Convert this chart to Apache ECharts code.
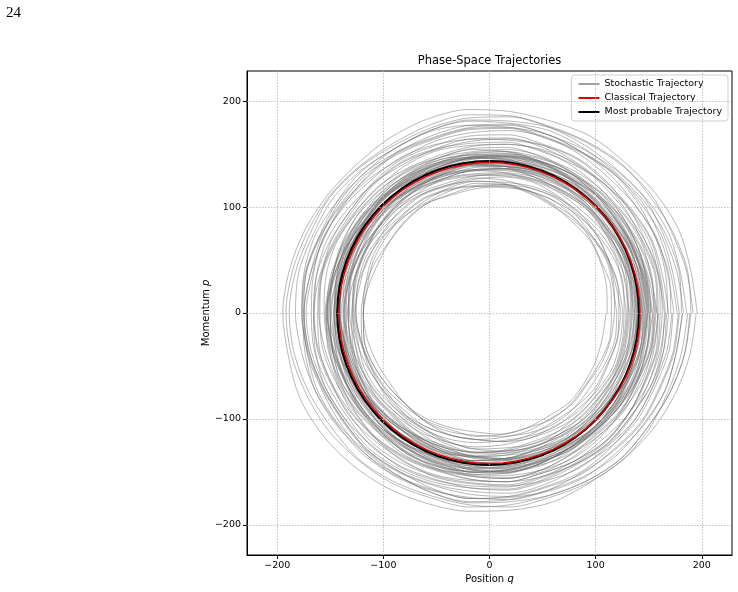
<!DOCTYPE html>
<html>
<head>
<meta charset="utf-8">
<script src="https://cdn.jsdelivr.net/npm/echarts@6/dist/echarts.min.js"></script>
<style>
  html, body { margin: 0; padding: 0; background: #fff; }
  #chart { width: 738px; height: 592px; }
</style>
</head>
<body>
<div id="chart"></div>
<script>
// tick values on both axes
const ticks = [-200, -100, 0, 100, 200];
const angles = [0, 12, 24, 36, 48, 60, 72, 84, 96, 108, 120, 132, 144, 156, 168, 180,
                192, 204, 216, 228, 240, 252, 264, 276, 288, 300, 312, 324, 336, 348, 360];
// finer angles for the two reference orbits
const circleAngles = [0, 5, 10, 15, 20, 25, 30, 35, 40, 45, 50, 55, 60, 65, 70, 75, 80, 85, 90,
  95, 100, 105, 110, 115, 120, 125, 130, 135, 140, 145, 150, 155, 160, 165, 170, 175, 180,
  185, 190, 195, 200, 205, 210, 215, 220, 225, 230, 235, 240, 245, 250, 255, 260, 265, 270,
  275, 280, 285, 290, 295, 300, 305, 310, 315, 320, 325, 330, 335, 340, 345, 350, 355, 360];

// radius of the classical orbit
const classicalR = [142, 142, 142, 142, 142, 142, 142, 142, 142, 142, 142, 142, 142, 142, 142, 142, 142, 142, 142,
  142, 142, 142, 142, 142, 142, 142, 142, 142, 142, 142, 142, 142, 142, 142, 142, 142, 142,
  142, 142, 142, 142, 142, 142, 142, 142, 142, 142, 142, 142, 142, 142, 142, 142, 142, 142,
  142, 142, 142, 142, 142, 142, 142, 142, 142, 142, 142, 142, 142, 142, 142, 142, 142, 142];
// most probable path (a little off-centre to the left)
const probableR = [141.0, 141.0, 141.1, 141.2, 141.3, 141.5, 141.7, 141.9, 142.1, 142.3, 142.5, 142.6, 142.8, 142.9, 143.0, 143.1, 143.2, 143.3, 143.3,
  143.4, 143.4, 143.5, 143.5, 143.5, 143.6, 143.6, 143.6, 143.6, 143.6, 143.6, 143.6, 143.6, 143.6, 143.6, 143.6, 143.6, 143.6,
  143.6, 143.6, 143.6, 143.6, 143.6, 143.6, 143.6, 143.6, 143.6, 143.6, 143.6, 143.5, 143.5, 143.5, 143.4, 143.4, 143.3, 143.3,
  143.2, 143.1, 143.0, 142.9, 142.8, 142.6, 142.5, 142.3, 142.1, 141.9, 141.7, 141.5, 141.3, 141.2, 141.1, 141.0, 141.0, 141.0];

// stochastic loops: radius at each angle
const stochR = [
  [196,194,195,193,191,192,190,191,193,192,190,188,189,191,193,195,194,196,195,193,191,189,188,187,188,186,187,189,191,193,195],
  [190,191,189,187,188,186,185,187,188,186,184,185,187,188,190,192,191,189,188,186,185,183,184,182,181,183,185,184,186,188,189],
  [186,184,185,183,181,182,184,186,185,183,182,184,186,185,187,189,188,186,184,185,183,181,182,184,183,185,187,186,184,185,187],
  [192,190,188,189,187,185,184,182,183,181,179,180,178,176,177,175,176,174,175,177,176,178,180,179,181,183,185,184,186,188,190],
  [181,183,182,180,178,179,181,180,182,181,179,177,178,180,179,177,176,178,177,175,176,178,179,177,176,178,180,179,181,180,182],
  [177,175,176,178,176,174,173,175,174,172,173,175,174,176,178,177,175,173,172,174,173,171,172,174,173,175,174,176,175,177,178],
  [174,172,173,171,170,172,174,173,171,170,168,170,172,171,173,175,174,172,171,173,172,170,169,171,170,168,170,172,171,173,173],
  [171,173,172,174,176,175,177,178,176,174,175,173,171,172,170,168,169,167,166,168,167,165,166,168,167,169,168,170,169,171,172],
  [183,181,180,182,180,178,177,179,178,176,175,177,176,174,173,175,174,172,171,173,172,174,176,175,177,179,178,180,181,180,182],
  [168,170,172,171,173,175,177,176,178,180,179,181,183,182,184,183,181,180,178,179,177,175,176,174,172,173,171,170,169,168,167],
  [179,177,178,176,177,175,174,176,175,173,174,172,173,175,177,176,178,180,179,177,178,176,175,177,176,174,175,177,176,178,179],
  [166,165,167,165,163,164,166,165,163,162,164,163,161,162,164,166,165,163,164,162,161,163,162,164,166,165,167,166,164,165,166],
  [163,164,162,160,161,163,162,160,159,161,160,158,159,161,163,162,164,163,161,160,162,161,159,160,162,161,163,162,164,163,163],
  [169,167,168,166,165,167,166,164,165,163,162,164,163,165,167,166,168,170,169,167,168,166,164,165,163,164,166,165,167,168,169],
  [161,163,165,164,166,168,167,169,168,166,167,165,163,164,162,160,161,159,158,160,159,157,158,160,159,161,160,162,161,162,161],
  [165,163,162,164,163,161,160,162,161,163,165,164,166,168,167,165,166,164,163,165,164,162,161,163,162,164,166,165,167,166,165],
  [158,160,159,161,163,162,164,166,165,167,169,168,170,172,171,173,172,170,169,171,170,168,166,167,165,163,164,162,160,161,159],
  [157,156,158,157,155,154,156,155,153,154,156,155,157,159,158,156,155,157,156,154,153,155,154,156,158,157,155,156,158,157,157],
  [154,152,153,155,154,152,151,153,152,150,151,153,155,154,152,151,149,150,152,151,153,152,150,149,151,153,152,154,153,155,154],
  [152,153,151,149,150,152,151,149,148,150,152,151,149,147,148,150,152,151,153,152,150,148,149,151,150,148,149,151,150,152,151],
  [150,148,149,147,146,148,150,149,147,146,145,147,149,148,150,152,151,149,147,148,146,145,147,146,148,150,149,151,150,148,149],
  [148,150,149,151,150,148,147,149,148,146,147,149,151,150,148,146,147,145,146,148,147,149,151,150,148,147,149,148,146,147,148],
  [147,145,146,144,145,147,146,148,150,149,147,148,146,145,147,149,148,146,145,147,146,144,145,147,149,148,146,147,145,146,147],
  [155,157,156,154,152,153,155,157,156,154,155,153,151,152,154,153,151,150,152,154,156,155,153,154,156,158,157,155,154,156,155],
  [151,149,148,150,152,154,153,151,150,152,151,149,147,148,146,147,149,151,150,152,154,153,151,152,150,148,149,151,153,152,151],
  [149,151,153,152,150,148,149,147,146,148,150,149,147,149,151,153,152,150,151,149,147,146,148,150,152,151,149,148,150,149,149],
  [146,148,147,145,147,149,151,150,148,147,149,148,146,144,145,147,146,148,150,149,147,145,146,148,147,145,147,149,148,146,146],
  [153,151,150,148,149,147,146,145,147,146,148,150,152,151,153,155,154,156,155,153,152,150,151,149,148,150,149,151,153,152,154],
  [145,147,149,148,150,152,151,153,155,154,152,151,149,150,148,146,147,145,144,146,148,147,149,151,150,148,146,147,145,146,145],
  [158,156,155,153,154,152,150,151,149,148,150,149,151,153,152,154,156,155,157,159,158,156,155,157,156,154,155,157,156,158,159],
  [150,152,151,153,151,149,150,148,147,149,148,146,147,149,151,150,152,154,153,151,150,152,151,149,147,148,150,149,151,150,150],
  [144,143,145,144,142,143,145,144,142,141,143,142,144,146,145,143,142,144,143,141,142,144,143,145,144,142,143,145,144,143,144],
  [142,144,143,141,140,142,141,139,140,142,144,143,141,140,142,141,139,138,140,142,141,143,142,140,139,141,143,142,144,143,142],
  [140,138,139,141,140,138,137,139,141,140,138,137,139,138,136,137,139,141,140,138,139,137,136,138,140,139,141,140,138,139,140],
  [138,140,139,137,136,138,137,135,136,138,137,139,141,140,138,137,135,136,138,137,135,134,136,138,137,139,138,136,137,139,138],
  [136,135,137,136,134,133,135,137,136,134,135,133,132,134,136,135,137,136,134,133,135,134,132,133,135,137,136,134,135,137,136],
  [134,136,135,133,134,132,131,133,135,134,132,131,133,135,134,132,130,131,133,132,134,136,135,133,132,134,133,131,132,134,134],
  [132,131,133,132,130,131,133,132,130,129,131,133,132,130,131,129,130,132,131,129,128,130,132,131,133,132,130,131,133,132,132],
  [143,141,140,142,144,143,141,139,140,138,137,139,141,143,142,144,142,140,139,141,143,142,140,138,139,141,140,142,144,143,143],
  [139,141,143,142,140,139,141,143,142,140,141,139,137,138,140,142,141,139,140,142,141,139,137,138,136,138,140,139,141,140,139],
  [137,139,138,136,138,140,139,137,135,136,138,140,139,141,140,138,136,137,135,134,136,138,137,139,141,140,138,137,139,138,137],
  [141,139,137,138,140,142,141,139,138,136,138,140,142,141,143,141,139,138,140,139,137,136,138,140,142,141,139,140,142,141,141],
  [135,137,139,138,136,134,135,137,139,138,136,134,133,135,137,136,138,140,139,137,135,134,136,135,133,134,136,138,137,135,135],
  [133,135,134,136,138,137,135,133,132,134,136,135,133,131,132,134,133,135,137,136,134,132,133,131,130,132,134,133,135,134,133],
  [144,146,145,143,141,142,140,139,141,143,142,144,146,145,143,141,140,142,141,139,138,140,142,144,143,145,147,146,144,143,144],
  [131,133,135,134,136,135,133,131,130,132,134,136,138,137,135,133,134,132,130,129,131,133,132,130,128,129,131,130,132,131,131],
  [140,142,141,143,145,144,142,140,141,139,138,140,139,137,138,140,142,141,139,137,136,138,140,139,141,143,142,140,141,139,140],
  [129,128,130,129,127,128,130,129,127,126,128,127,129,131,130,128,127,129,128,126,125,127,129,128,130,129,127,128,130,129,129],
  [127,129,128,126,125,127,126,124,125,127,129,128,126,125,127,126,124,123,125,127,126,128,127,125,124,126,128,127,129,128,127],
  [124,122,123,125,124,122,121,123,125,124,122,121,123,122,120,121,123,125,124,122,123,121,120,122,124,123,125,124,122,123,124],
  [122,124,123,121,120,122,121,119,120,122,124,123,121,120,118,119,121,120,118,117,119,121,120,122,121,119,120,122,121,123,122],
  [120,119,121,120,118,117,119,121,120,118,119,117,116,118,120,119,121,120,118,117,119,118,116,117,119,121,120,118,119,121,120],
  [126,124,123,125,127,126,124,122,123,121,120,122,124,126,125,127,125,123,122,124,126,125,123,121,122,124,123,125,127,126,126],
  [118,120,122,121,123,125,124,126,128,127,129,131,130,132,131,129,128,126,124,125,123,121,120,118,117,115,116,114,116,117,118],
  [111,113,115,117,116,118,120,122,121,123,125,124,126,128,127,126,124,122,121,119,118,116,117,115,114,112,113,111,110,109,110],
  [115,117,116,118,120,119,121,120,118,117,119,118,116,115,117,119,118,116,115,117,116,114,113,115,114,116,115,113,114,116,115],
  [156,154,153,155,157,156,154,153,151,152,154,156,155,153,152,154,153,151,150,152,154,153,155,157,156,154,153,155,154,156,156],
  [147,149,148,146,145,147,149,148,146,144,145,147,146,148,147,145,144,146,148,147,149,150,148,147,145,146,148,147,149,148,147],
  [143,145,146,144,142,141,143,145,144,142,140,141,143,142,144,146,145,143,141,142,140,139,141,143,142,144,146,145,143,142,143],
  [137,136,134,135,137,139,138,136,135,137,139,138,136,134,135,133,134,136,138,137,139,141,140,138,136,135,137,136,134,136,137],
  [152,150,148,149,151,150,148,146,147,145,146,148,150,149,151,153,152,154,152,150,149,151,153,152,150,149,151,150,152,153,152],
  [130,132,131,133,135,134,132,130,131,133,135,134,132,131,129,130,132,134,133,131,130,128,129,131,133,132,134,133,131,130,130],
  [159,161,160,158,157,159,161,160,158,156,157,159,158,160,162,161,159,158,160,159,157,156,158,160,159,161,163,162,160,159,159],
  [145,143,142,144,146,145,143,141,142,144,146,147,145,143,144,142,140,141,143,145,144,146,145,143,142,144,146,145,143,144,145],
  [139,137,138,140,142,141,139,137,136,138,140,139,137,135,136,138,140,142,141,139,137,138,136,135,137,139,138,140,142,141,139],
  [149,147,146,148,147,145,144,146,148,150,149,147,145,146,144,143,145,147,146,148,150,149,147,145,146,148,147,145,146,148,149]
];

const FONT = 'DejaVu Sans';
const toPolar = (r, a) => a.map((deg, i) => [r[i], deg]);
const minus = v => String(v).replace('-', '\u2212');

let chart = echarts.init(document.getElementById('chart'));

let series = stochR.map(r => ({
  name: 'Stochastic Trajectory',
  type: 'line',
  coordinateSystem: 'polar',
  data: toPolar(r, angles),
  symbol: 'none',
  smooth: 0.3,
  itemStyle: { color: '#808080' },
  lineStyle: { color: 'rgba(110,110,110,0.65)', width: 0.75 },
  z: 2,
  silent: true
}));

series.push({
  name: 'Most probable Trajectory',
  type: 'line',
  coordinateSystem: 'polar',
  data: toPolar(probableR, circleAngles),
  symbol: 'none',
  itemStyle: { color: '#000' },
  lineStyle: { color: '#000', width: 2.2 },
  z: 3
});
series.push({
  name: 'Classical Trajectory',
  type: 'line',
  coordinateSystem: 'polar',
  data: toPolar(classicalR, circleAngles),
  symbol: 'none',
  itemStyle: { color: '#e00000' },
  lineStyle: { color: '#e00000', width: 1.4 },
  z: 4
});
// dotted grid lines of the cartesian frame
series.push({
  type: 'line',
  data: [],
  markLine: {
    silent: true,
    symbol: 'none',
    label: { show: false },
    lineStyle: { color: '#b0b0b0', type: [1.5, 1.5], width: 0.8 },
    data: ticks.map(t => ({ xAxis: t })).concat(ticks.map(t => ({ yAxis: t })))
  },
  z: 1
});

chart.setOption({
  animation: false,
  backgroundColor: '#fff',
  graphic: [
    { type: 'text', x: 6, y: 13,
      style: { text: '24', font: '15px "Liberation Serif"', fill: '#000', textVerticalAlign: 'middle' } },
    { type: 'text', x: 489.5, y: 61,
      style: { text: 'Phase-Space Trajectories', font: '11.5px "DejaVu Sans"', fill: '#000',
               textAlign: 'center', textVerticalAlign: 'middle' } }
  ],
  legend: {
    data: ['Stochastic Trajectory', 'Classical Trajectory', 'Most probable Trajectory'],
    orient: 'vertical',
    right: 10,
    top: 75,
    backgroundColor: 'rgba(255,255,255,0.85)',
    borderColor: '#d0d0d0',
    borderWidth: 1,
    borderRadius: 3,
    padding: [4, 6, 4, 6],
    itemGap: 4,
    itemWidth: 21,
    itemHeight: 10,
    itemStyle: { opacity: 0 },
    textStyle: { fontSize: 9.5, fontFamily: FONT, color: '#000' }
  },
  grid: {
    left: 247, top: 71, width: 485, height: 484,
    show: true, borderColor: '#000', borderWidth: 1, backgroundColor: 'transparent'
  },
  xAxis: {
    type: 'value', min: -228.5, max: 228.5,
    axisLine: { show: true, onZero: false, lineStyle: { color: '#000' } },
    axisTick: { show: true, customValues: ticks, length: 4, lineStyle: { color: '#000' } },
    axisLabel: { customValues: ticks, formatter: minus, color: '#000', fontSize: 9.5, fontFamily: FONT, margin: 6 },
    splitLine: { show: false },
    name: 'Position {i|q}',
    nameLocation: 'middle',
    nameGap: 19,
    nameMoveOverlap: false,
    nameTextStyle: { fontSize: 10, fontFamily: FONT, color: '#000',
      rich: { i: { fontStyle: 'italic', fontSize: 10, fontFamily: FONT, color: '#000' } } }
  },
  yAxis: {
    type: 'value', min: -228.5, max: 228.5,
    axisLine: { show: true, onZero: false, lineStyle: { color: '#000' } },
    axisTick: { show: true, customValues: ticks, length: 4, lineStyle: { color: '#000' } },
    axisLabel: { customValues: ticks, formatter: minus, color: '#000', fontSize: 9.5, fontFamily: FONT, margin: 6 },
    splitLine: { show: false },
    name: 'Momentum {i|p}',
    nameLocation: 'middle',
    nameGap: 36,
    nameMoveOverlap: false,
    nameTextStyle: { fontSize: 10, fontFamily: FONT, color: '#000',
      rich: { i: { fontStyle: 'italic', fontSize: 10, fontFamily: FONT, color: '#000' } } }
  },
  polar: { center: [489.5, 313], radius: 242.25 },
  radiusAxis: { type: 'value', min: 0, max: 228.5, show: false },
  angleAxis: { type: 'value', min: 0, max: 360, startAngle: 0, clockwise: false, show: false },
  series: series
});
</script>
</body>
</html>
